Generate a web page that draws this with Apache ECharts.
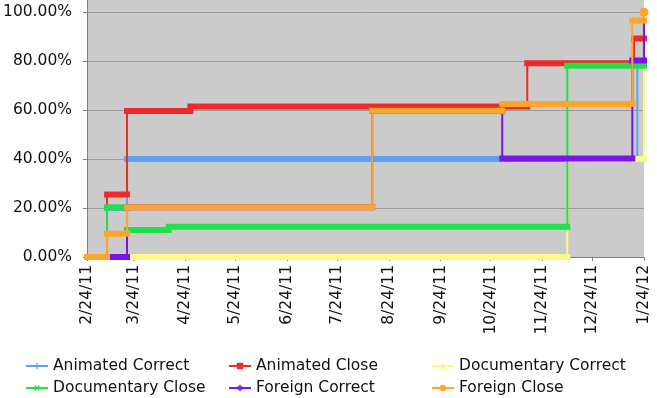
<!DOCTYPE html>
<html>
<head>
<meta charset="utf-8">
<script src="https://cdn.jsdelivr.net/npm/echarts@6/dist/echarts.min.js"></script>
<style>
  html, body { margin: 0; padding: 0; background: #fff; }
  #chart { width: 657px; height: 398px; }
</style>
</head>
<body>
<div id="chart"></div>
<script>
// x axis ticks
const tickDates = ['2011-02-24', '2011-03-24', '2011-04-24', '2011-05-24', '2011-06-24', '2011-07-24',
    '2011-08-24', '2011-09-24', '2011-10-24', '2011-11-24', '2011-12-24', '2012-01-24']
const tickLabels = ['2/24/11', '3/24/11', '4/24/11', '5/24/11', '6/24/11', '7/24/11',
    '8/24/11', '9/24/11', '10/24/11', '11/24/11', '12/24/11', '1/24/12']

// each series: the dates where the value changes, and the value from that date on
const animatedCorrectDates = ['2011-02-24', '2011-03-08', '2011-03-20', '2012-01-20', '2012-01-24']
const animatedCorrect = [0, 0.20, 0.40, 0.80, 1.0]

const animatedCloseDates = ['2011-02-24', '2011-03-08', '2011-03-20', '2011-04-27', '2011-11-15', '2012-01-18', '2012-01-24']
const animatedClose = [0, 0.255, 0.597, 0.615, 0.792, 0.893, 1.0]

const documentaryCorrectDates = ['2011-02-24', '2011-12-09', '2012-01-24']
const documentaryCorrect = [0, 0.40, 1.0]

const documentaryCloseDates = ['2011-02-24', '2011-03-08', '2011-03-20', '2011-04-14', '2011-12-09', '2012-01-24']
const documentaryClose = [0, 0.203, 0.110, 0.124, 0.781, 1.0]

const foreignCorrectDates = ['2011-02-24', '2011-03-20', '2011-08-14', '2011-10-31', '2012-01-17', '2012-01-24']
const foreignCorrect = [0, 0.203, 0.598, 0.402, 0.803, 1.0]

const foreignCloseDates = ['2011-02-24', '2011-03-08', '2011-03-20', '2011-08-14', '2011-10-31', '2012-01-17', '2012-01-24']
const foreignClose = [0, 0.095, 0.203, 0.598, 0.625, 0.966, 1.0]

// dates as plain numbers (ms), x axis is a value axis
const toTime = (s) => new Date(s + 'T00:00:00Z').getTime()

const seriesList = [
    { name: 'Animated Correct', dates: animatedCorrectDates, values: animatedCorrect, color: '#5ca3f3',
        symbol: 'path://M4,0H6V4H10V6H6V10H4V6H0V4H4Z', rotate: 0 },
    { name: 'Animated Close', dates: animatedCloseDates, values: animatedClose, color: '#ef2a2a',
        symbol: 'rect', rotate: 0 },
    { name: 'Documentary Correct', dates: documentaryCorrectDates, values: documentaryCorrect, color: '#fcf88a',
        symbol: 'triangle', rotate: 0 },
    { name: 'Documentary Close', dates: documentaryCloseDates, values: documentaryClose, color: '#22e04a',
        symbol: 'path://M4,0H6V4H10V6H6V10H4V6H0V4H4Z', rotate: 45 },
    { name: 'Foreign Correct', dates: foreignCorrectDates, values: foreignCorrect, color: '#7b14ec',
        symbol: 'path://M4,0H6V10H4Z M0,4H10V6H0Z M1,2L2,1L9,8L8,9Z M8,1L9,2L2,9L1,8Z', rotate: 0 },
    { name: 'Foreign Close', dates: foreignCloseDates, values: foreignClose, color: '#fea62a',
        symbol: 'circle', rotate: 0 },
]

const series = []
seriesList.forEach(s => {
    const last = s.values.length - 1
    // thin step line (the jumps)
    series.push({
        name: s.name,
        type: 'line',
        step: 'end',
        data: s.dates.map((d, i) => [toTime(d), s.values[i]]),
        symbol: s.symbol,
        symbolRotate: s.rotate,
        showSymbol: true,
        symbolSize: (v, p) => (s.name === 'Foreign Close' && p.dataIndex === last ? 9 : 0),
        itemStyle: { color: s.color },
        lineStyle: { color: s.color, width: 2 },
        silent: true,
    })
    // thick flat parts (dense daily markers in the original)
    const flat = []
    for (let i = 0; i < last; i++) {
        flat.push([toTime(s.dates[i]), s.values[i]])
        flat.push([toTime(s.dates[i + 1]), s.values[i]])
        flat.push([toTime(s.dates[i + 1]), null])
    }
    series.push({
        name: s.name,
        type: 'line',
        data: flat,
        showSymbol: false,
        symbol: 'none',
        itemStyle: { color: s.color },
        lineStyle: { color: s.color, width: 6, cap: 'square' },
        silent: true,
    })
})

const myChart = echarts.init(document.getElementById('chart'))
const font = 'DejaVu Sans'
const tickValues = tickDates.map(toTime)

const option = {
    animation: false,
    backgroundColor: '#fff',
    grid: {
        left: 87,
        right: 13,
        top: 0,
        bottom: 141,
        show: true,
        backgroundColor: '#cbcbcb',
        borderWidth: 0,
    },
    legend: {
        data: seriesList.map(s => s.name),
        left: 20,
        top: 350,
        width: 625,
        itemWidth: 22,
        itemHeight: 8,
        itemGap: 0,
        textStyle: {
            fontFamily: font,
            fontSize: 15.5,
            color: '#111',
            width: 175,
            lineHeight: 22,
        },
    },
    xAxis: {
        type: 'value',
        min: tickValues[0],
        max: tickValues[tickValues.length - 1],
        scale: true,
        axisLine: { show: true, lineStyle: { color: '#808080', width: 1 } },
        axisTick: { show: true, length: 4, lineStyle: { color: '#808080' }, customValues: tickValues },
        splitLine: { show: false },
        axisLabel: {
            customValues: tickValues,
            rotate: 90,
            margin: 8,
            fontFamily: font,
            fontSize: 15.5,
            color: '#111',
            formatter: (val) => {
                const i = tickValues.indexOf(val)
                return i >= 0 ? tickLabels[i] : ''
            },
        },
    },
    yAxis: {
        type: 'value',
        min: 0,
        max: 1.05,
        interval: 0.2,
        axisLine: { show: true, lineStyle: { color: '#808080', width: 1 } },
        axisTick: { show: true, length: 4, lineStyle: { color: '#808080' } },
        splitLine: { show: true, showMaxLine: false, lineStyle: { color: '#9a9a9a', width: 1 } },
        axisLabel: {
            showMaxLabel: false,
            margin: 15,
            fontFamily: font,
            fontSize: 15.5,
            color: '#111',
            formatter: (v) => (v * 100).toFixed(2) + '%',
        },
    },
    series: series,
}

option && myChart.setOption(option)
</script>
</body>
</html>
